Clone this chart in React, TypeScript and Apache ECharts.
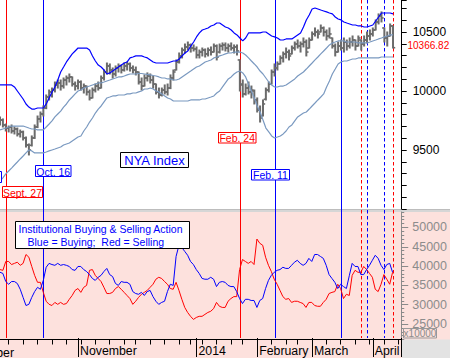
import React, { useEffect, useRef } from 'react';
import * as echarts from 'echarts';

const FONT = 'Liberation Sans, Arial, sans-serif';

// ---- calendar (NYSE trading days) ----
const HOLIDAYS = ['2013-11-28', '2013-12-25', '2014-01-01', '2014-01-20', '2014-02-17'];
function buildTradingDays(start: string, end: string): string[] {
  const out: string[] = [];
  const d = new Date(start + 'T12:00:00Z');
  const e = new Date(end + 'T12:00:00Z');
  while (d <= e) {
    const wd = d.getUTCDay();
    const s = d.toISOString().slice(0, 10);
    if (wd !== 0 && wd !== 6 && HOLIDAYS.indexOf(s) < 0) out.push(s);
    d.setUTCDate(d.getUTCDate() + 1);
  }
  return out;
}
const dates = buildTradingDays('2013-09-25', '2014-04-15');

// ---- month tick labels ----
const monthTickDates = ['2013-11-01', '2014-01-02', '2014-02-03', '2014-03-03', '2014-04-01', '2014-04-15'];
const monthTickLabels = ['November', '2014', 'February', 'March', 'April', ''];

// ---- NYA daily bars: [open, close, low, high] ----
const nyaBars: number[][] = [
  [9737,9754,9712,9780],[9754,9712,9695,9763],[9712,9686,9661,9720],[9686,9695,9653,9703],[9695,9661,9644,9712],
  [9661,9678,9636,9695],[9678,9636,9619,9686],[9636,9653,9610,9669],[9653,9602,9585,9660],[9602,9542,9525,9610],
  [9542,9500,9458,9551],[9540,9602,9534,9619],[9602,9695,9598,9712],[9695,9763,9690,9788],[9763,9805,9737,9822],
  [9805,9856,9788,9873],[9856,9949,9850,9966],[9949,9992,9924,10008],[9992,10008,9949,10025],[10008,10051,9992,10076],
  [10051,10068,10025,10093],[10068,10042,10008,10093],[10042,10093,10025,10110],[10093,10110,10051,10127],[10110,10119,10076,10144],
  [10119,10059,10042,10119],[10059,10042,10008,10076],[10042,10076,10017,10093],[10076,10025,10008,10085],[10025,10042,9983,10059],
  [10042,9992,9966,10042],[9992,9941,9924,10008],[9941,10008,9941,10025],[10008,10042,9992,10059],[10042,10025,10008,10076],
  [10025,10110,10025,10127],[10110,10161,10093,10178],[10161,10212,10144,10237],[10212,10178,10144,10229],[10178,10144,10110,10195],
  [10144,10195,10127,10212],[10195,10212,10161,10229],[10212,10178,10153,10220],[10178,10212,10169,10237],[10212,10229,10178,10246],
  [10229,10195,10169,10237],[10195,10178,10153,10212],[10178,10161,10136,10203],[10161,10076,10059,10161],[10076,10042,10008,10110],
  [10042,10110,10042,10136],[10110,10127,10085,10153],[10127,10093,10068,10144],[10093,10059,10025,10127],[10059,9992,9975,10059],
  [9992,9966,9941,10025],[9966,10008,9958,10025],[10008,9992,9975,10051],[9992,10025,9966,10059],[10025,10110,10020,10136],
  [10110,10161,10093,10178],[10178,10246,10178,10263],[10246,10297,10237,10322],[10297,10347,10280,10364],[10347,10373,10322,10398],
  [10373,10390,10347,10415],[10390,10364,10330,10398],[10364,10356,10339,10390],[10356,10305,10280,10373],[10305,10330,10280,10347],
  [10330,10347,10297,10364],[10347,10314,10288,10356],[10314,10347,10297,10364],[10347,10330,10305,10373],[10330,10381,10330,10398],
  [10381,10288,10263,10390],[10330,10381,10322,10398],[10381,10390,10347,10407],[10390,10364,10339,10407],[10364,10381,10330,10398],
  [10381,10364,10347,10407],[10364,10373,10322,10390],[10373,10339,10305,10390],[10263,10059,10000,10263],[10051,9975,9949,10093],
  [9975,10025,9966,10059],[10025,9992,9975,10076],[9992,10008,9941,10042],[10000,9924,9890,10008],[9924,9839,9822,9941],
  [9839,9771,9737,9873],[9790,9890,9788,9924],[9930,10008,9924,10025],[10008,10059,9992,10076],[10059,10161,10059,10178],
  [10161,10195,10127,10229],[10195,10229,10178,10246],[10229,10280,10229,10297],[10280,10314,10246,10330],[10314,10330,10280,10364],
  [10330,10297,10263,10347],[10314,10364,10314,10381],[10364,10398,10347,10415],[10398,10381,10364,10432],[10381,10398,10330,10415],
  [10398,10415,10373,10449],[10415,10330,10297,10432],[10364,10432,10364,10449],[10432,10483,10432,10500],[10483,10500,10466,10534],
  [10500,10483,10449,10517],[10500,10534,10500,10559],[10534,10500,10466,10542],[10500,10466,10432,10517],[10466,10483,10449,10534],
  [10449,10381,10364,10449],[10381,10330,10297,10398],[10330,10381,10330,10415],[10381,10364,10347,10432],[10364,10415,10330,10449],
  [10415,10381,10347,10432],[10381,10415,10364,10449],[10415,10432,10381,10466],[10432,10381,10347,10432],[10381,10449,10381,10466],
  [10432,10398,10347,10432],[10398,10432,10381,10466],[10432,10466,10407,10500],[10466,10483,10432,10517],[10483,10517,10466,10534],
  [10517,10585,10517,10602],[10585,10636,10568,10653],[10636,10619,10585,10670],[10534,10449,10415,10534],[10449,10466,10381,10500],
  [10466,10551,10466,10568],[10551,10366.82,10364,10551],
];

// ---- Bollinger bands ----
const upperBand = [
  10051,10051,10051,10051,10051,10034,10000,9966,9932,9890,
  9864,9847,9847,9856,9856,9856,9890,9941,9992,10034,
  10093,10161,10203,10246,10280,10314,10339,10364,10364,10364,
  10364,10347,10297,10254,10220,10203,10178,10144,10153,10169,
  10186,10203,10220,10237,10246,10280,10288,10297,10297,10297,
  10288,10280,10263,10246,10237,10237,10237,10237,10237,10246,
  10254,10254,10271,10297,10322,10339,10381,10415,10458,10492,
  10517,10525,10534,10551,10559,10576,10576,10559,10542,10534,
  10517,10492,10475,10449,10424,10449,10492,10492,10492,10492,
  10492,10500,10500,10483,10466,10458,10449,10432,10432,10441,
  10441,10441,10458,10475,10492,10542,10602,10644,10695,10703,
  10695,10686,10678,10670,10661,10653,10627,10610,10602,10585,
  10576,10568,10559,10559,10551,10551,10542,10542,10551,10559,
  10593,10627,10661,10661,10661,10661,10653,
];
const middleBand = [
  9670,9678,9686,9695,9703,9703,9703,9703,9703,9695,
  9686,9678,9678,9670,9670,9670,9695,9720,9746,9780,
  9805,9830,9864,9890,9924,9949,9975,10000,10008,10025,
  10034,10042,10051,10059,10068,10068,10076,10085,10093,10102,
  10110,10119,10119,10127,10136,10144,10144,10144,10148,10148,
  10144,10140,10136,10131,10127,10119,10110,10110,10102,10102,
  10093,10093,10102,10119,10136,10153,10169,10186,10203,10212,
  10229,10246,10254,10263,10280,10288,10297,10305,10314,10322,
  10322,10330,10330,10330,10322,10305,10280,10254,10229,10203,
  10169,10144,10110,10076,10051,10034,10034,10042,10042,10051,
  10068,10085,10102,10127,10144,10161,10186,10212,10237,10263,
  10288,10314,10339,10364,10390,10407,10415,10424,10424,10424,
  10415,10415,10415,10415,10407,10407,10407,10407,10415,10424,
  10432,10441,10449,10458,10466,10475,10475,
];
const lowerBand = [
  9237,9263,9297,9322,9347,9373,9398,9424,9449,9475,
  9500,9492,9475,9475,9475,9475,9483,9492,9500,9508,
  9517,9525,9542,9551,9559,9576,9593,9610,9619,9661,
  9695,9737,9771,9813,9847,9873,9907,9941,9949,9958,
  9958,9966,9966,9966,9975,9975,9983,9983,9992,10000,
  10017,10017,10025,10017,10000,9992,9975,9958,9941,9932,
  9915,9915,9915,9915,9915,9915,9924,9924,9924,9924,
  9932,9932,9941,9949,9958,9983,10000,10034,10068,10102,
  10119,10144,10161,10169,10153,10119,10059,10000,9941,9873,
  9822,9754,9686,9653,9619,9602,9610,9619,9636,9661,
  9695,9712,9746,9780,9797,9813,9822,9847,9873,9898,
  9924,9949,9975,10034,10085,10144,10186,10229,10246,10254,
  10254,10263,10271,10271,10280,10280,10280,10280,10280,10280,
  10280,10280,10288,10288,10288,10288,10288,
];

// ---- Institutional buying (blue) & selling (red) ----
const buying = [
  38400,38100,36000,35300,36000,36000,35500,34000,31900,29800,
  30100,31900,33400,34500,34000,36300,39700,40700,40400,40200,
  40700,40200,40400,40200,39900,39100,38900,39900,39900,39100,
  38600,37800,36800,36300,37100,37600,38600,39400,37800,37300,
  35500,35000,36000,35800,35800,35300,33400,32900,32700,33200,
  32400,33400,33700,32100,30900,30100,30600,30900,33400,35300,
  35000,42500,45400,44800,43800,42800,41200,40400,39100,38100,
  36800,36600,36600,37100,36600,34700,35800,36000,35800,35000,
  34700,34700,33400,31600,30300,31400,31400,31100,31100,29300,
  31100,31600,34200,36300,37600,38400,38900,39100,39700,39400,
  39400,40200,41000,41500,40700,40200,40700,42000,41200,43000,
  43000,42500,42000,40200,37800,36800,35800,34200,35300,34700,
  34200,37500,40700,39900,39900,37800,37800,39100,40200,41500,
  42800,42000,40200,39100,40400,40700,38400,
];
const selling = [
  39100,38900,41200,41200,40400,40700,41000,40200,40700,43000,
  42300,39900,37600,35800,35800,33200,30900,30100,29800,30600,
  30100,30600,30100,30300,31400,32400,33700,34200,33200,34500,
  35000,38900,39100,37600,36800,36000,34500,32900,32900,33200,
  34200,34700,34000,33200,32400,31600,30100,30900,31900,32700,
  33200,33700,34500,35300,36600,37100,36800,36000,35300,34200,
  34000,35800,33700,31400,29300,28000,27000,26200,26700,27000,
  27000,27500,28000,28300,29000,30600,29600,29300,29300,30900,
  31600,32100,32100,39100,41700,41200,40700,41200,40400,47000,
  45900,45400,42300,40200,38600,36600,35300,33700,32100,31400,
  31600,30600,30900,30900,30600,30300,29300,30600,30600,29800,
  29600,29600,30600,31400,32900,33200,33400,35300,34200,31600,
  32700,32400,37600,38900,38400,38400,39900,39100,38100,37100,
  34000,33400,35300,37800,36600,35300,38400,
];

// ---- event lines ----
const eventDates = ['2013-09-27', '2013-10-16', '2014-01-24', '2014-02-11', '2014-03-17', '2014-03-26', '2014-03-28', '2014-04-07', '2014-04-10'];
const eventColors = ['#ff0000', '#0000ff', '#ff0000', '#0000ff', '#0000ff', '#ff0000', '#0000ff', '#0000ff', '#ff0000'];
const eventDashed = [false, false, false, false, false, true, true, true, true];

// ---- axis ticks ----
const priceLabels = [9500, 10000, 10500];
const flowLabels = [25000, 30000, 35000, 40000, 45000, 50000];

function box(x: number, y: number, w: number, h: number, stroke: string, text: string, color: string, size: number) {
  return {
    type: 'group',
    z: 100,
    children: [
      { type: 'rect', z: 100, shape: { x, y, width: w, height: h }, style: { fill: '#ffffff', stroke, lineWidth: 1 } },
      {
        type: 'text', z: 101,
        style: {
          text, x: x + w / 2, y: y + h / 2 + 0.5, fill: color, font: `${size}px ${FONT}`,
          textAlign: 'center', align: 'center', textVerticalAlign: 'middle', verticalAlign: 'middle',
        },
      },
    ],
  };
}

function txt(text: string, x: number, y: number, color: string, size: number, align = 'left') {
  return {
    type: 'text', z: 101,
    style: {
      text, x, y, fill: color, font: `${size}px ${FONT}`,
      textAlign: align, align, textVerticalAlign: 'middle', verticalAlign: 'middle',
    },
  };
}

export default function App() {
  const ref = useRef<HTMLDivElement>(null);
  useEffect(() => {
    document.body.style.margin = '0';
    const chart = echarts.init(ref.current as HTMLDivElement, null, { renderer: 'svg' });

    const weekStart: boolean[] = dates.map((d, i) => {
      if (i === 0) return false;
      const a = new Date(d + 'T12:00:00Z').getUTCDay();
      const b = new Date(dates[i - 1] + 'T12:00:00Z').getUTCDay();
      return a < b;
    });
    const monthIdx: Record<number, string> = {};
    monthTickDates.forEach((d, k) => { monthIdx[dates.indexOf(d)] = monthTickLabels[k]; });

    const lastClose = nyaBars[nyaBars.length - 1][1];

    const gridL = -1.2;
    const gridW = 402.9;

    const option: any = {
      animation: false,
      textStyle: { fontFamily: FONT },
      grid: [
        { left: gridL, width: gridW, top: 0, height: 209 },
        { left: gridL, width: gridW, top: 212, height: 127.5 },
        { left: gridL, width: gridW, top: 0, height: 339.5 },
      ],
      xAxis: [
        { gridIndex: 0, type: 'category', data: dates, boundaryGap: false, show: false },
        {
          gridIndex: 1, type: 'category', data: dates, boundaryGap: false, position: 'bottom',
          axisLine: { show: true, lineStyle: { color: '#000', width: 1 } },
          axisTick: { show: true, interval: (i: number) => weekStart[i] && monthIdx[i] === undefined, length: 5, lineStyle: { color: '#000' } },
          axisLabel: { show: false }, splitLine: { show: false },
        },
        {
          gridIndex: 2, type: 'category', data: dates, boundaryGap: false, position: 'bottom',
          axisLine: { show: false },
          axisTick: { show: true, interval: (i: number) => monthIdx[i] !== undefined, length: 19, lineStyle: { color: '#000' } },
          axisLabel: {
            show: true, interval: (i: number) => monthIdx[i] !== undefined,
            formatter: (v: string) => { const k = monthTickDates.indexOf(v); return k >= 0 ? monthTickLabels[k] : ''; },
            align: 'left', margin: 6, padding: [0, 0, 0, 2], color: '#000', fontSize: 12.3, lineHeight: 14, fontFamily: FONT,
          },
          splitLine: { show: false },
        },
      ],
      yAxis: [
        {
          gridIndex: 0, type: 'value', position: 'right', min: 9000, max: 10771, interval: 100,
          axisLine: { show: true, lineStyle: { color: '#000' } },
          axisTick: { show: true, length: 5, lineStyle: { color: '#000' } },
          axisLabel: { formatter: (v: number) => (priceLabels.indexOf(v) >= 0 ? String(v) : ''), margin: 11, color: '#000', fontSize: 12, fontFamily: FONT },
          splitLine: { show: false },
        },
        {
          gridIndex: 1, type: 'value', position: 'right', min: 21000, max: 54000, interval: 1000,
          axisLine: { show: true, lineStyle: { color: '#8a8a8a' } },
          axisTick: { show: true, length: 3, lineStyle: { color: '#8a8a8a' } },
          axisLabel: { formatter: (v: number) => (flowLabels.indexOf(v) >= 0 ? String(v) : ''), margin: 11, color: '#8c8c8c', fontSize: 12.5, fontFamily: FONT },
          splitLine: { show: false },
        },
        {
          gridIndex: 1, type: 'value', position: 'right', min: 21000, max: 54000,
          axisLine: { show: false },
          axisTick: { show: true, length: 7, customValues: flowLabels, lineStyle: { color: '#8a8a8a' } },
          axisLabel: { show: false }, splitLine: { show: false },
        },
        { gridIndex: 2, type: 'value', min: 0, max: 1, show: false },
      ],
      series: [
        {
          type: 'custom', name: 'events', xAxisIndex: 2, yAxisIndex: 3, silent: true, clip: false,
          data: eventDates.map((d, k) => [dates.indexOf(d), k]),
          renderItem: (params: any, api: any) => {
            const k = api.value(1);
            const p = api.coord([api.value(0), 0]);
            const cs = params.coordSys;
            const x = Math.round(p[0]) + 0.5;
            return {
              type: 'line',
              shape: { x1: x, y1: cs.y, x2: x, y2: cs.y + cs.height },
              style: { stroke: eventColors[k], lineWidth: 1, lineDash: eventDashed[k] ? [3.5, 2.5] : null, fill: null },
            };
          },
        },
        { type: 'line', name: 'upper', xAxisIndex: 0, yAxisIndex: 0, data: upperBand, symbol: 'none', silent: true, lineStyle: { color: '#0000ff', width: 1.2 } },
        { type: 'line', name: 'middle', xAxisIndex: 0, yAxisIndex: 0, data: middleBand, symbol: 'none', silent: true, lineStyle: { color: '#7a99c0', width: 1.2 } },
        { type: 'line', name: 'lower', xAxisIndex: 0, yAxisIndex: 0, data: lowerBand, symbol: 'none', silent: true, lineStyle: { color: '#7a99c0', width: 1.2 } },
        {
          type: 'custom', name: 'NYA', xAxisIndex: 0, yAxisIndex: 0, silent: true,
          dimensions: ['idx', 'open', 'close', 'low', 'high'],
          encode: { x: 0, y: [1, 2, 3, 4] },
          data: nyaBars.map((b, i) => [i, b[0], b[1], b[2], b[3]]),
          renderItem: (params: any, api: any) => {
            const i = api.value(0);
            const o = api.coord([i, api.value(1)]);
            const c = api.coord([i, api.value(2)]);
            const l = api.coord([i, api.value(3)]);
            const h = api.coord([i, api.value(4)]);
            const x = h[0];
            const st = { stroke: '#6b6b6b', lineWidth: 2 };
            return {
              type: 'group',
              children: [
                { type: 'line', shape: { x1: x, y1: h[1] - 0.5, x2: x, y2: l[1] + 0.5 }, style: st },
                { type: 'line', shape: { x1: x - 2.2, y1: o[1], x2: x, y2: o[1] }, style: { stroke: '#6b6b6b', lineWidth: 1.6 } },
                { type: 'line', shape: { x1: x, y1: c[1], x2: x + 2.2, y2: c[1] }, style: { stroke: '#6b6b6b', lineWidth: 1.6 } },
              ],
            };
          },
        },
        { type: 'line', name: 'Selling', xAxisIndex: 1, yAxisIndex: 1, data: selling, symbol: 'none', silent: true, lineStyle: { color: '#ff0000', width: 1 } },
        { type: 'line', name: 'Buying', xAxisIndex: 1, yAxisIndex: 1, data: buying, symbol: 'none', silent: true, lineStyle: { color: '#0000ff', width: 1 } },
      ],
      graphic: [
        { type: 'rect', z: -1, silent: true, shape: { x: 0, y: 212, width: 450, height: 146 }, style: { fill: '#fde1dd' } },
        { type: 'rect', z: -1, silent: true, shape: { x: 402, y: 339.5, width: 48, height: 18.5 }, style: { fill: '#e3e3e3' } },
        { type: 'rect', z: -1, silent: true, shape: { x: 0, y: 209, width: 450, height: 3 }, style: { fill: '#d6d6d6' } },
        { type: 'rect', z: -1, silent: true, shape: { x: 0, y: 209, width: 450, height: 1 }, style: { fill: '#bdbdbd' } },
        { type: 'rect', z: 100, silent: true, shape: { x: -40, y: 171.5, width: 41.5, height: 11 }, style: { fill: '#ffffff', stroke: '#0000ff', lineWidth: 1 } },
        box(2.5, 186.5, 40, 11, '#ff0000', 'Sept. 27', '#ff0000', 10.5),
        box(35.5, 165.5, 35.5, 11, '#0000ff', 'Oct. 16', '#0000ff', 10.5),
        box(120.5, 152.5, 68, 15, '#000000', 'NYA Index', '#0000ff', 13),
        box(218.5, 132.5, 37.5, 10.5, '#ff0000', 'Feb. 24', '#ff0000', 10.5),
        box(251.5, 169.5, 38, 10.5, '#0000ff', 'Feb. 11', '#0000ff', 10.5),
        {
          type: 'group', z: 100,
          children: [
            { type: 'rect', z: 100, shape: { x: 15.5, y: 221.5, width: 174, height: 27 }, style: { fill: '#ffffff', stroke: '#000000', lineWidth: 1 } },
            txt('Institutional Buying & Selling Action', 18.5, 228.5, '#0000ff', 10.5),
            txt('Blue = Buying;  Red = Selling', 27.5, 241.5, '#0000ff', 10.5),
          ],
        },
        {
          type: 'group', z: 100,
          children: [
            { type: 'rect', z: 100, shape: { x: 403.5, y: 328.5, width: 33, height: 9.5 }, style: { fill: '#fde1dd', stroke: '#999999', lineWidth: 1 } },
            txt('x10000', 420, 333.5, '#8c8c8c', 10, 'center'),
          ],
        },
        txt('October', 14, 352.5, '#000000', 12.3, 'right'),
        txt(String(lastClose), 407.5, 45, '#ff0000', 10),
      ],
    };
    chart.setOption(option);
    return () => chart.dispose();
  }, []);
  return <div ref={ref} style={{ position: 'absolute', left: 0, top: 0, width: 450, height: 358 }} />;
}
